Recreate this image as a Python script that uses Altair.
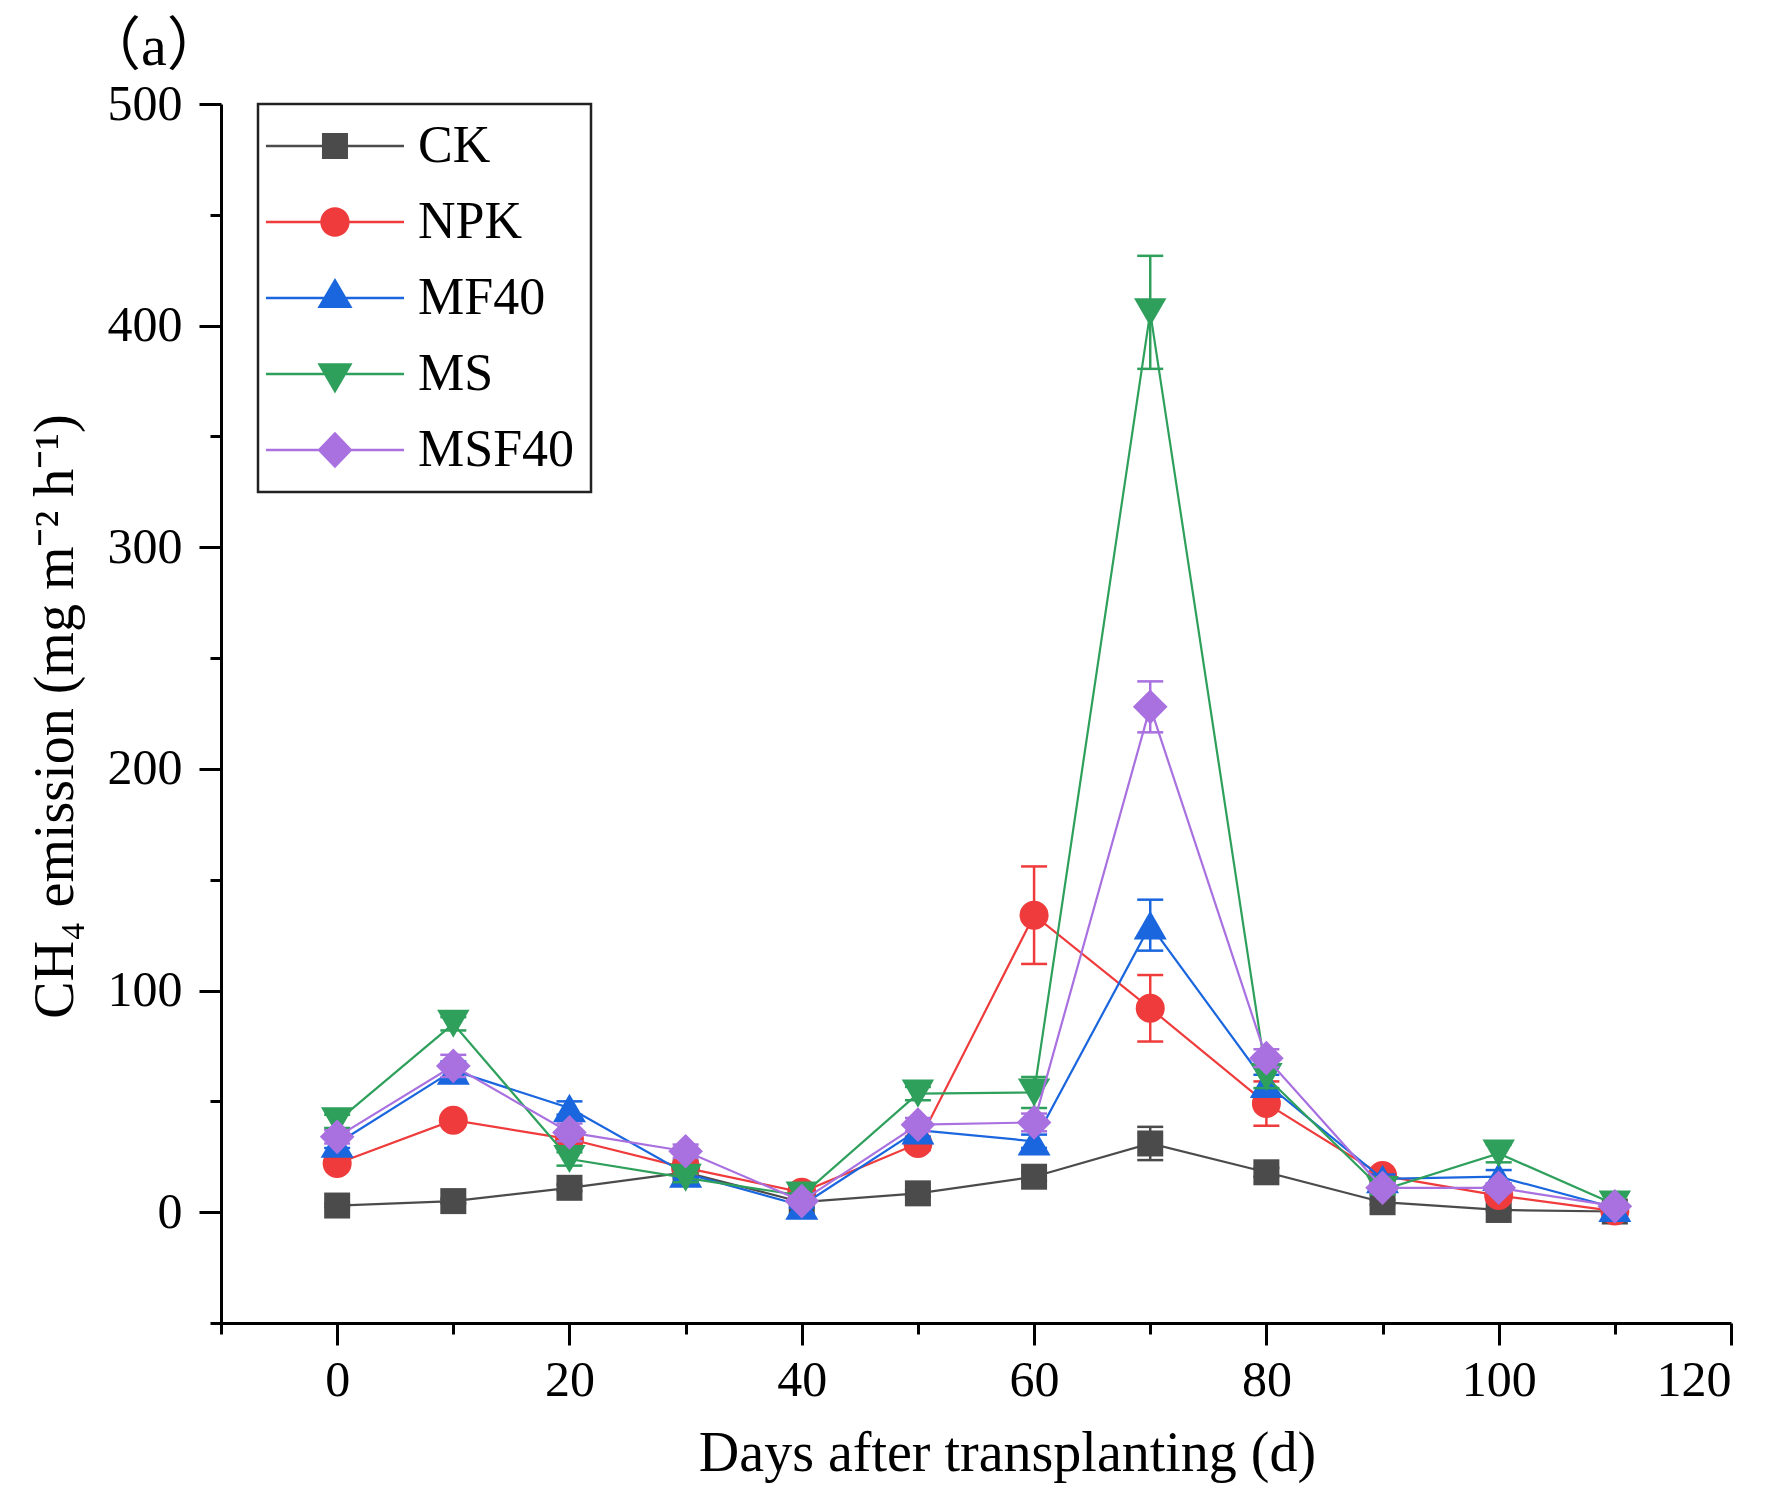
import altair as alt
import pandas as pd

# ---- data ----
days = [0, 10, 20, 30, 40, 50, 60, 70, 80, 90, 100, 110]
series_names = ["CK", "NPK", "MF40", "MS", "MSF40"]

ck = [3, 5, 11, 18, 4.5, 8.5, 16, 31, 18, 4.5, 1, 0.3]
npk = [22, 41.5, 33, 20, 9, 31, 134, 92, 49, 16.5, 7.5, 0.5]
mf40 = [31, 64, 47, 17.5, 3, 37, 32, 129.5, 58, 15, 16, 2]
ms = [41, 85, 24, 15.5, 7.5, 53.5, 54, 406, 61, 10, 26.5, 3.5]
msf40 = [34, 66, 36, 27.5, 5, 39.5, 40.5, 228, 69.5, 11, 11, 2.7]

ck_err = [0.8, 1, 1.5, 1.5, 0.8, 1.5, 2, 7.5, 2, 1, 0.5, 0.3]
npk_err = [2, 2, 3, 2, 1, 3, 22, 15, 10, 2, 1, 0.5]
mf40_err = [2, 4, 3, 2, 1, 3, 3, 11.5, 4, 2, 3, 1]
ms_err = [3, 3, 3, 2, 1, 3, 7, 25.5, 5, 2, 4, 1]
msf40_err = [3, 5, 4, 3, 1, 3, 4, 11.5, 4, 2, 2, 1]

x_ticks = [-10, 0, 10, 20, 30, 40, 50, 60, 70, 80, 90, 100, 110, 120]
y_ticks = [-50, 0, 50, 100, 150, 200, 250, 300, 350, 400, 450, 500]

# ---- styles ----
colors = ["#4b4b4b", "#ef3b3b", "#1a66de", "#2ea05c", "#a970e0"]
shapes = ["square", "circle", "triangle-up", "triangle-down", "diamond"]
sizes = [676, 841, 1090, 1050, 1200]
# legend glyph: thin line with the series marker on it
LINE = "M-2.62,-0.09L8.0,-0.09L8.0,0.09L-2.62,0.09Z"
legend_paths = [
    LINE + "M1.69,-1L3.69,-1L3.69,1L1.69,1Z",
    LINE + "M3.82,0A1.13,1.13,0,1,1,1.56,0A1.13,1.13,0,1,1,3.82,0Z",
    LINE + "M2.69,-1.54L4.04,0.77L1.34,0.77Z",
    LINE + "M1.34,-0.82L4.04,-0.82L2.69,1.5Z",
    LINE + "M2.69,-1.41L4.04,0L2.69,1.41L1.34,0Z",
]
FONT = "Liberation Serif"

rows = []
for name, vals, errs in zip(series_names, [ck, npk, mf40, ms, msf40],
                            [ck_err, npk_err, mf40_err, ms_err, msf40_err]):
    for d, v, e in zip(days, vals, errs):
        rows.append({"series": name, "day": d, "value": v, "lo": v - e, "hi": v + e})
df = pd.DataFrame(rows)

x_scale = alt.Scale(domain=[-10, 120], nice=False, zero=False)
y_scale = alt.Scale(domain=[-50, 500], nice=False, zero=False)

x_axis = alt.Axis(
    values=x_ticks,
    labelExpr="datum.value % 20 == 0 ? datum.label : ''",
    tickSize={"condition": {"test": "datum.value % 20 != 0", "value": 11}, "value": 22},
    labelPadding=10,
    title="Days after transplanting (d)",
    titleX=786, titleY=147, titleBaseline="alphabetic",
)
y_axis = alt.Axis(
    values=y_ticks,
    labelExpr="datum.value % 100 == 0 ? datum.label : ''",
    tickSize={"condition": {"test": "datum.value % 100 != 0", "value": 11}, "value": 22},
    labelPadding=17,
    title="CH₄ emission (mg m⁻² h⁻¹)",
    titleX=-149, titleY=612, titleBaseline="alphabetic",
)

X = alt.X("day:Q", scale=x_scale, axis=x_axis)

layers = []
for i, name in enumerate(series_names):
    c = colors[i]
    src = alt.Chart(df).transform_filter(alt.datum.series == name)
    rule = src.mark_rule(color=c, strokeWidth=2.5).encode(
        x=X, y=alt.Y("lo:Q", scale=y_scale, axis=y_axis), y2="hi:Q")
    caps = src.transform_fold(["lo", "hi"], as_=["which", "cap"]).mark_tick(
        orient="horizontal", size=26, thickness=2.5, color=c, opacity=1).encode(
        x=X, y=alt.Y("cap:Q", scale=y_scale, axis=y_axis))
    line = src.mark_line(color=c, strokeWidth=2.2).encode(
        x=X, y=alt.Y("value:Q", scale=y_scale, axis=y_axis))
    pts = src.mark_point(filled=True, opacity=1, shape=shapes[i], size=sizes[i], color=c).encode(
        x=X, y=alt.Y("value:Q", scale=y_scale, axis=y_axis))
    layers += [rule, caps, line, pts]

legend_obj = alt.Legend(
    title=None, orient="none", legendX=37, legendY=0,
    symbolSize=676, symbolStrokeWidth=0, symbolOpacity=1,
    labelFont=FONT, labelFontSize=52, labelColor="black", labelOffset=92, labelLimit=0,
    padding=16, rowPadding=24, strokeColor="#222222", fillColor="white",
)
legend_layer = alt.Chart(df).transform_filter("false").mark_point(
    filled=True, size=676, opacity=1).encode(
    shape=alt.Shape("series:N", scale=alt.Scale(domain=series_names, range=legend_paths), legend=legend_obj),
    color=alt.Color("series:N", scale=alt.Scale(domain=series_names, range=colors), legend=legend_obj),
)
layers.append(legend_layer)

chart = alt.layer(*layers).properties(
    width=1510, height=1219,
    title=alt.TitleParams("（a）", anchor="start", frame="group", dx=-138, dy=86, offset=42,
                          baseline="alphabetic", font="Liberation Serif, Noto Sans CJK SC",
                          fontSize=58, fontWeight="normal", color="black"),
    autosize=alt.AutoSizeParams(type="none"),
    padding={"left": 213, "top": 96, "right": 40, "bottom": 165},
).configure_view(stroke=None).configure_axis(
    grid=False, domainColor="black", domainWidth=3, tickColor="black", tickWidth=3,
    labelFont=FONT, labelFontSize=50, labelColor="black",
    titleFont=FONT, titleFontSize=56, titleColor="black", titleFontWeight="normal",
).configure_legend(strokeWidth=2.5)

chart.save("out.html", embed_options={"renderer": "svg", "actions": False})
